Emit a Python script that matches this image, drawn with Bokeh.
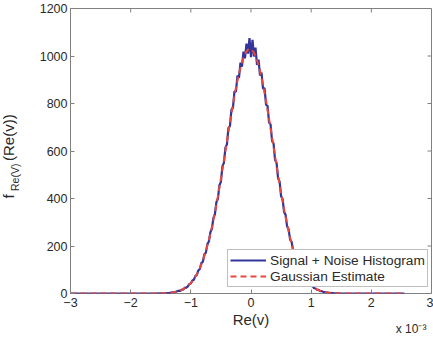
import numpy as np
from bokeh.plotting import figure
from bokeh.models import (Range1d, LinearAxis, FixedTicker, Legend, LegendItem,
                          ColumnDataSource, Title, CustomJSTickFormatter)
from bokeh.embed import file_html
from bokeh.resources import INLINE

# ---- data (x in units of 1e-3) ----
hist_core_x = np.round(np.linspace(-1.2, 1.2, 97), 3)
hist_core_y = [12, 11, 17, 16, 25, 24, 30, 40, 42, 55, 58, 73, 78, 97, 103, 128, 134, 165,
               172, 208, 219, 258, 272, 318, 333, 385, 398, 456, 470, 536, 550, 614, 628,
               697, 705, 774, 782, 851, 850, 917, 908, 972, 955, 1018, 990, 1052, 1010,
               1075, 995, 1068, 998, 1035, 962, 985, 918, 930, 862, 865, 795, 790, 720,
               712, 642, 632, 562, 550, 485, 472, 410, 398, 343, 331, 282, 270, 227, 217,
               180, 172, 141, 134, 108, 103, 82, 78, 61, 58, 44, 42, 32, 31, 22, 21, 15,
               15, 10, 10, 7]
hist_left_x = [-3.0, -2.5, -2.0, -1.6, -1.5, -1.45, -1.4, -1.35, -1.3, -1.25]
hist_left_y = [0, 0, 0, 0, 1, 1, 2, 3, 5, 7]
hist_right_x = [1.25, 1.3, 1.35, 1.4, 1.45, 1.5, 1.6, 2.0, 2.55]
hist_right_y = [5, 3, 2, 1, 1, 0, 0, 0, 0]

gauss_core_x = np.round(np.linspace(-1.5, 1.5, 61), 3)
gauss_core_y = [0.8, 1.2, 2.0, 3.1, 4.7, 7.1, 10.6, 15.5, 22.3, 31.5, 43.8, 60.0, 80.8,
                107, 139, 179, 225, 279, 341, 409, 483, 561, 641, 720, 796, 866, 926,
                974, 1009, 1027, 1029, 1014, 982, 937, 878, 811, 736, 657, 577, 498, 423,
                354, 291, 235, 187, 147, 113, 86, 64, 47, 34, 24, 16.7, 11.4, 7.7, 5.1,
                3.4, 2.2, 1.4, 0.8, 0.5]
gauss_left_x = [-3.0, -2.0, -1.6]
gauss_left_y = [0, 0, 0]
gauss_right_x = [1.6, 2.0, 2.55]
gauss_right_y = [0, 0, 0]

x_ticks = [-3, -2, -1, 0, 1, 2, 3]
y_ticks = [0, 200, 400, 600, 800, 1000, 1200]
exp_tick = [2.66]

hist_x = list(hist_left_x) + list(hist_core_x) + list(hist_right_x)
hist_y = list(hist_left_y) + list(hist_core_y) + list(hist_right_y)
gauss_x = list(gauss_left_x) + list(gauss_core_x) + list(gauss_right_x)
gauss_y = list(gauss_left_y) + list(gauss_core_y) + list(gauss_right_y)

FONT = "Liberation Sans"
TXT = "#2a2a2a"
AXC = "#808080"
BLUE = "#33359a"
RED = "#e8483c"
NB = "\u00a0"
XMIN, XMAX, YMIN, YMAX = -3, 3, 0, 1200

p = figure(width=433, height=338, output_backend="svg", toolbar_location=None,
           x_range=Range1d(XMIN, XMAX), y_range=Range1d(YMIN, YMAX),
           x_axis_location=None, y_axis_location=None,
           min_border_left=70, min_border_right=2, min_border_top=8, min_border_bottom=45)
p.background_fill_color = "white"
p.border_fill_color = "white"
p.outline_line_color = AXC
p.outline_line_width = 1
p.xgrid.visible = False
p.ygrid.visible = False


def style(ax):
    ax.axis_line_color = None
    ax.major_tick_in = 4
    ax.major_tick_out = 0
    ax.major_tick_line_color = AXC
    ax.minor_tick_line_color = None
    ax.major_label_text_font = FONT
    ax.major_label_text_font_size = "12.5px"
    ax.major_label_text_color = TXT
    ax.axis_label_text_font = FONT
    ax.axis_label_text_font_style = "normal"
    ax.axis_label_text_color = TXT


# bottom axis: ticks, tick labels and "Re(v)"
xb = LinearAxis(ticker=FixedTicker(ticks=x_ticks))
style(xb)
xb.major_label_standoff = 4
xb.axis_label = "Re(v)"
xb.axis_label_text_font_size = "15px"
xb.axis_label_standoff = 1
p.add_layout(xb, "below")

# second bottom row: the "x 10^-3" multiplier
xe = LinearAxis(ticker=FixedTicker(ticks=exp_tick),
                formatter=CustomJSTickFormatter(code="return 'x 10\u207b\u00b3'"))
style(xe)
xe.major_tick_line_color = None
xe.major_tick_in = 0
xe.major_label_standoff = -9
xe.major_label_text_font_size = "12px"
p.add_layout(xe, "below")

# left axis: tick labels plus the subscript of the y title
yl = LinearAxis(ticker=FixedTicker(ticks=y_ticks))
style(yl)
yl.major_label_standoff = 3
yl.axis_label = "Re(V)" + NB * 18
yl.axis_label_text_font_size = "10.5px"
yl.axis_label_standoff = 16
p.add_layout(yl, "left")

# main part of the y title: f ... (Re(v))
p.add_layout(Title(text="f" + NB * 8 + "(Re(v))", text_font=FONT, text_font_size="15px",
                   text_font_style="normal", text_color=TXT, align="left",
                   offset=95, standoff=-23), "left")

# mirrored inward ticks on the top and right edges (MATLAB box style)
tick_dx = (XMAX - XMIN) / 361 * 4
tick_dy = (YMAX - YMIN) / 285 * 4
p.segment(x0=x_ticks, y0=[YMAX] * len(x_ticks), x1=x_ticks, y1=[YMAX - tick_dy] * len(x_ticks),
          line_color=AXC, line_width=1)
p.segment(x0=[XMAX] * len(y_ticks), y0=y_ticks, x1=[XMAX - tick_dx] * len(y_ticks), y1=y_ticks,
          line_color=AXC, line_width=1)

src_h = ColumnDataSource(dict(x=hist_x, y=hist_y))
src_g = ColumnDataSource(dict(x=gauss_x, y=gauss_y))
r_h = p.line("x", "y", source=src_h, line_color=BLUE, line_width=2.2)
r_g = p.line("x", "y", source=src_g, line_color=RED, line_width=2, line_dash="6 4")

legend = Legend(items=[LegendItem(label="Signal + Noise Histogram", renderers=[r_h]),
                       LegendItem(label="Gaussian Estimate", renderers=[r_g])],
                location=(157, 6), orientation="vertical")
legend.border_line_color = AXC
legend.border_line_width = 1
legend.background_fill_color = "white"
legend.background_fill_alpha = 1
legend.padding = 2
legend.spacing = 0
legend.margin = 0
legend.glyph_width = 36
legend.glyph_height = 16
legend.label_height = 16
legend.label_standoff = 4
legend.label_text_font = FONT
legend.label_text_font_size = "13.7px"
legend.label_text_color = TXT
p.add_layout(legend, "center")

open("out.html", "w").write(file_html(p, INLINE))
